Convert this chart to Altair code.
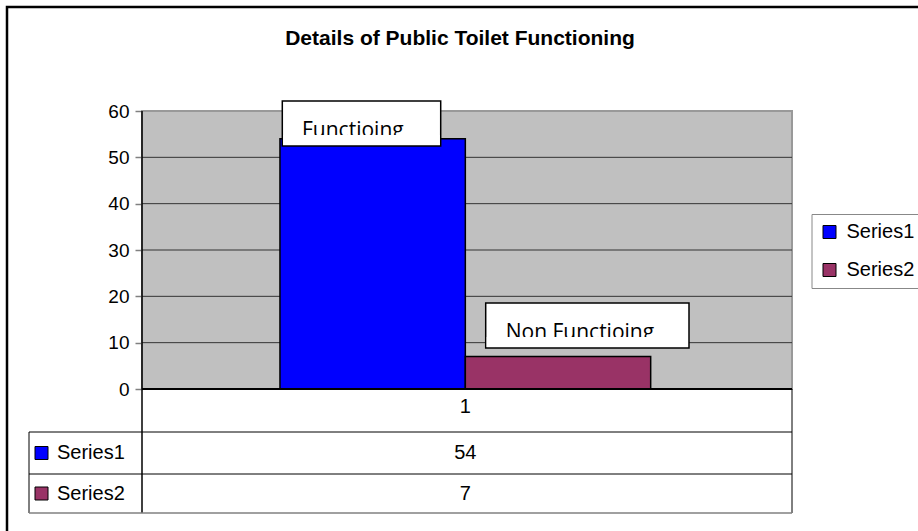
import altair as alt
import pandas as pd

# ---- data ----
categories = ["1"]
series = ["Series1", "Series2"]
values = [54, 7]
colors = ["#0000FF", "#993366"]
y_ticks = [0, 10, 20, 30, 40, 50, 60]
grid_values = [10, 20, 30, 40, 50]
box_labels = ["Functioing", "Non Functioing"]
title_text = "Details of Public Toilet Functioning"

df = pd.DataFrame({"cat": [categories[0]] * len(series), "series": series, "value": values})
one = pd.DataFrame({"k": [0]})

FONT = "Liberation Sans"
W, H = 650, 278

yscale = alt.Scale(domain=[0, 60], nice=False, zero=True)
xscale = alt.Scale(domain=categories, paddingInner=0, paddingOuter=0.3767, align=0.494)
cscale = alt.Scale(domain=series, range=colors)
rowscale = alt.Scale(domain=series, range=[342, 382.5], padding=0)

legend = alt.Legend(
    orient="none", legendX=669.5, legendY=103, title=None,
    symbolType="square", symbolSize=169, symbolStrokeColor="black", symbolStrokeWidth=1,
    labelFont=FONT, labelFontSize=20, labelColor="black", labelOffset=7,
    rowPadding=18, padding=8, strokeColor="#888888",
)
color = alt.Color("series:N", scale=cscale, legend=legend)


def hrule(y, x1, x2, c="black", w=1.0):
    return alt.Chart(one).mark_rule(color=c, strokeWidth=w).encode(
        x=alt.value(x1), x2=alt.value(x2), y=alt.value(y))


def vrule(x, y1, y2, c="black", w=1.0):
    return alt.Chart(one).mark_rule(color=c, strokeWidth=w).encode(
        x=alt.value(x), y=alt.value(y1), y2=alt.value(y2))


plot_bg = alt.Chart(one).mark_rect(fill="#C0C0C0", stroke="#999999", strokeWidth=2).encode(
    x=alt.value(0), x2=alt.value(W), y=alt.value(0), y2=alt.value(H))

grid = alt.Chart(pd.DataFrame({"g": grid_values})).mark_rule(color="#333333", strokeWidth=1).encode(
    y=alt.Y("g:Q", scale=yscale, axis=None), x=alt.value(0), x2=alt.value(W))

bars = alt.Chart(df).mark_bar(stroke="black", strokeWidth=1.5).encode(
    x=alt.X("cat:N", scale=xscale, axis=None),
    xOffset=alt.XOffset("series:N", scale=alt.Scale(domain=series, paddingInner=0, paddingOuter=0)),
    y=alt.Y("value:Q", scale=yscale, axis=alt.Axis(
        values=y_ticks, grid=False, domain=False, tickSize=7, tickColor="#808080", tickWidth=1.5,
        labelFont=FONT, labelFontSize=19, labelColor="black", labelPadding=6, title=None)),
    color=color,
)

# annotation boxes
def label_box(x1, x2, y1, y2, text, tx, ty):
    box = alt.Chart(one).mark_rect(fill="white", stroke="black", strokeWidth=1.5).encode(
        x=alt.value(x1), x2=alt.value(x2), y=alt.value(y1), y2=alt.value(y2))
    txt = alt.Chart(one).mark_text(align="left", baseline="alphabetic", font="Open Sans",
                                   fontSize=21, color="black", text=text).encode(
        x=alt.value(tx), y=alt.value(ty))
    mask = alt.Chart(one).mark_rect(fill="white").encode(
        x=alt.value(x1 + 1), x2=alt.value(x2 - 1), y=alt.value(y2 - 11), y2=alt.value(y2 - 1))
    return [box, txt, mask]

box1 = label_box(140.3, 298.7, -10, 35, box_labels[0], 160, 26)
box2 = label_box(343.7, 547, 192, 237, box_labels[1], 363.7, 228)

title = alt.Chart(one).mark_text(align="center", baseline="alphabetic", font=FONT, fontSize=21,
                                 fontWeight="bold", color="black", text=title_text).encode(
    x=alt.value(318), y=alt.value(-66))

# data table
cat_text = alt.Chart(pd.DataFrame({"cat": categories})).mark_text(
    font=FONT, fontSize=20, color="black", baseline="middle").encode(
    x=alt.X("cat:N", scale=xscale, axis=None), y=alt.value(296), text="cat:N")

val_text = alt.Chart(df).mark_text(font=FONT, fontSize=20, color="black", baseline="middle").encode(
    x=alt.X("cat:N", scale=xscale, axis=None),
    y=alt.Y("series:N", scale=rowscale, axis=None),
    text="value:Q")

sw = alt.Chart(df).mark_point(shape="square", filled=True, size=169, stroke="black",
                              strokeWidth=1, opacity=1).encode(
    x=alt.value(-100.5), y=alt.Y("series:N", scale=rowscale, axis=None), color=color)

ser_text = alt.Chart(df).mark_text(font=FONT, fontSize=20, color="black", align="left",
                                   baseline="middle").encode(
    x=alt.value(-85), y=alt.Y("series:N", scale=rowscale, axis=None), text="series:N")

lines = [
    hrule(278, 0, W, "black", 2),
    vrule(0, 0, 402, "black", 1.5),
    vrule(W, 278, 402, "black", 1),
    vrule(-113, 321, 402, "black", 1),
    hrule(321, -113, W, "black", 1),
    hrule(363, -113, W, "black", 1),
    hrule(402, -113, W, "#808080", 1.5),
]

frame = alt.Chart(one).mark_rect(fill="white", fillOpacity=0, stroke="black", strokeWidth=2.5).encode(
    x=alt.value(-135), x2=alt.value(900), y=alt.value(-104), y2=alt.value(500))

chart = alt.layer(
    plot_bg, grid, bars, *box1, *box2, title, *lines, cat_text, val_text, sw, ser_text, frame
).resolve_scale(y="independent").properties(
    width=W, height=H,
    background="white",
    padding={"left": 142, "top": 111, "right": 126, "bottom": 142},
    autosize=alt.AutoSizeParams(type="none"),
).configure_view(stroke=None)

chart.save("out.html", embed_options={"renderer": "svg", "actions": False})
